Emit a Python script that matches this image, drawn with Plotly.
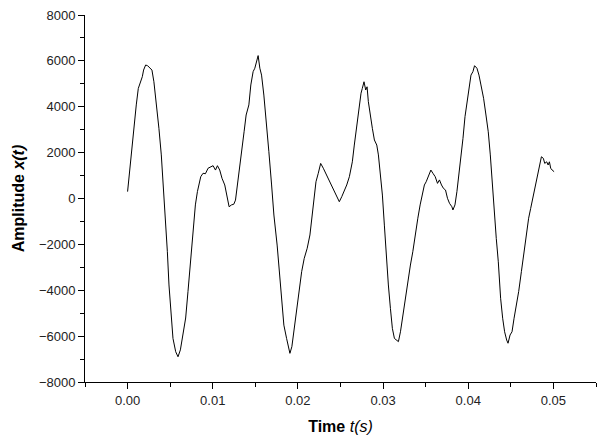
import plotly.graph_objects as go

# Signal readings taken off the reference plot (time in s, amplitude)
time_s = [
    0.0, 0.00015, 0.00044, 0.00071, 0.00102, 0.00126, 0.00149, 0.00173, 0.00188, 0.00212,
    0.00235, 0.00259, 0.00286, 0.00309, 0.00338, 0.00368, 0.00396, 0.00420, 0.00444, 0.00467,
    0.00486, 0.00509, 0.00533, 0.00565, 0.00592, 0.00620, 0.00651, 0.00682, 0.00709, 0.00738,
    0.00768, 0.00796, 0.00820, 0.00859, 0.00886, 0.00914, 0.00945, 0.00973, 0.01004, 0.01032,
    0.01055, 0.01082, 0.01109, 0.01141, 0.01168, 0.01192, 0.01220, 0.01247, 0.01267, 0.01291,
    0.01318, 0.01345, 0.01368, 0.01392, 0.01424, 0.01447, 0.01474, 0.01494, 0.01514, 0.01533,
    0.01553, 0.01573, 0.01600, 0.01627, 0.01659, 0.01691, 0.01718, 0.01756, 0.01780, 0.01808,
    0.01835, 0.01867, 0.01894, 0.01906, 0.01929, 0.01956, 0.01985, 0.02015, 0.02044, 0.02074,
    0.02109, 0.02141, 0.02165, 0.02188, 0.02212, 0.02239, 0.02267, 0.02298, 0.02338, 0.02376,
    0.02415, 0.02455, 0.02486, 0.02515, 0.02541, 0.02573, 0.02604, 0.02639, 0.02662, 0.02691,
    0.02718, 0.02741, 0.02756, 0.02776, 0.02796, 0.02812, 0.02827, 0.02851, 0.02874, 0.02898,
    0.02926, 0.02945, 0.02968, 0.02992, 0.03015, 0.03039, 0.03062, 0.03086, 0.03109, 0.03133,
    0.03161, 0.03180, 0.03204, 0.03227, 0.03259, 0.03291, 0.03321, 0.03349, 0.03376, 0.03408,
    0.03435, 0.03462, 0.03485, 0.03506, 0.03533, 0.03561, 0.03585, 0.03612, 0.03639, 0.03662,
    0.03686, 0.03709, 0.03733, 0.03756, 0.03780, 0.03808, 0.03820, 0.03844, 0.03867, 0.03891,
    0.03915, 0.03938, 0.03962, 0.03985, 0.04008, 0.04032, 0.04055, 0.04074, 0.04102, 0.04126,
    0.04149, 0.04180, 0.04208, 0.04235, 0.04259, 0.04282, 0.04306, 0.04329, 0.04353, 0.04380,
    0.04404, 0.04427, 0.04451, 0.04467, 0.04491, 0.04514, 0.04538, 0.04561, 0.04592, 0.04624,
    0.04655, 0.04686, 0.04709, 0.04733, 0.04756, 0.04780, 0.04804, 0.04827, 0.04844, 0.04859,
    0.04882, 0.04898, 0.04921, 0.04938, 0.04953, 0.04968, 0.04985, 0.05008,
]
amplitude = [
    300, 880, 1900, 3200, 4080, 4800, 5020, 5310, 5600, 5820,
    5790, 5680, 5600, 5090, 4220, 3060, 1900, 590, -860, -2320,
    -3770, -5080, -6100, -6680, -6900, -6600, -5950, -5210, -4060, -2760,
    -1450, -280, 300, 950, 1100, 1080, 1320, 1390, 1430, 1240,
    1430, 1240, 880, 590, 10, -360, -280, -250, -70, 590,
    1460, 2040, 2910, 3640, 4080, 4950, 5530, 5680, 5960, 6230,
    5680, 5380, 4510, 3500, 2040, 590, -720, -2030, -3190, -4350,
    -5520, -6100, -6530, -6750, -6460, -5660, -4790, -3920, -3190, -2610,
    -2170, -1590, -720, 150, 730, 1100, 1530, 1320, 1020, 730,
    440, 150, -140, 80, 300, 590, 950, 1600, 2330, 3200,
    3930, 4590, 4800, 5090, 4730, 4870, 4220, 3570, 3060, 2550,
    2330, 1900, 1170, 150, -1160, -2610, -3770, -4790, -5660, -6100,
    -6170, -6240, -5810, -5220, -4350, -3480, -2900, -2320, -1590, -860,
    -280, 150, 590, 730, 950, 1240, 1100, 950, 660, 810,
    590, 440, 370, 10, -210, -360, -500, -280, 300, 1020,
    1750, 2620, 3570, 4220, 4950, 5380, 5530, 5790, 5680, 5380,
    4950, 4370, 3640, 2910, 1900, 590, -580, -1740, -2760, -4350,
    -5220, -5810, -6170, -6310, -5950, -5810, -5220, -4790, -4060, -3190,
    -2320, -1590, -860, -430, 10, 440, 880, 1240, 1680, 1820,
    1750, 1530, 1600, 1460, 1600, 1320, 1240, 1170,
]

fig = go.Figure(go.Scatter(
    x=time_s,
    y=amplitude,
    mode='lines',
    line=dict(color='black', width=1),
    showlegend=False))

axis_style = dict(showline=True, linecolor='black', linewidth=1,
                  ticks='outside', ticklen=6, tickcolor='black',
                  showgrid=False, zeroline=False, automargin=False,
                  ticklabeloverflow='allow',
                  tickfont=dict(size=13, color='#222'))

fig.update_xaxes(range=[-0.005, 0.055], dtick=0.01, tick0=0, tickformat='.2f',
                 minor=dict(ticks='outside', ticklen=4, dtick=0.005, tick0=0, tickcolor='black'),
                 title=dict(text='<b>Time</b> <i>t(s)</i>', font=dict(size=16, color='black'), standoff=14),
                 **axis_style)
fig.update_yaxes(range=[-8000, 8000], dtick=2000,
                 minor=dict(ticks='outside', ticklen=4, dtick=1000, tickcolor='black'),
                 title=dict(text='<b>Amplitude <i>x(t)</i></b>', font=dict(size=16, color='black'), standoff=10),
                 **axis_style)

# page body adds an 8px offset, so the figure is sized to fit the window
fig.update_layout(width=598, height=437,
                  font=dict(family='Liberation Sans, Arial, sans-serif'),
                  plot_bgcolor='white', paper_bgcolor='white',
                  margin=dict(l=77, r=10, t=7, b=63))

fig.write_html("out.html")
